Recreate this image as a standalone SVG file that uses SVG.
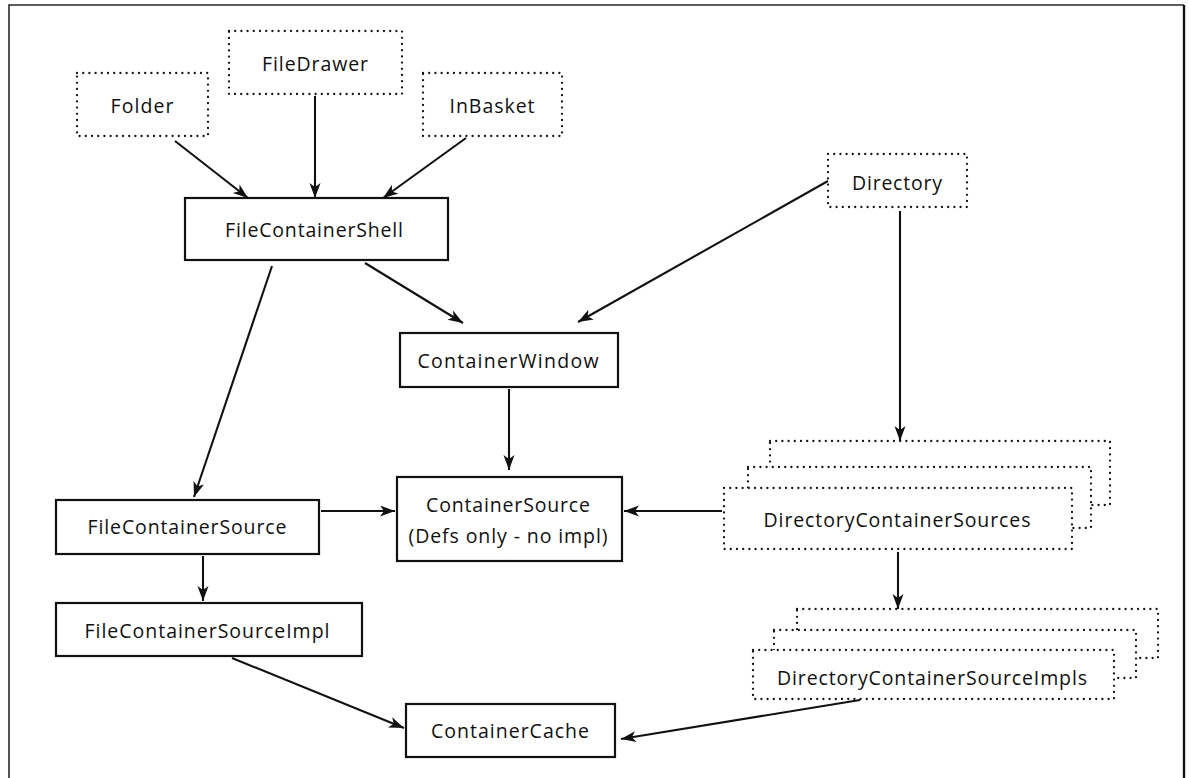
<svg xmlns="http://www.w3.org/2000/svg" width="1189" height="778" viewBox="0 0 1189 778">
  <style>
    .frame { fill: none; stroke: #2a2a2a; stroke-width: 1.6; }
    .frame-r { fill: none; stroke: #111; stroke-width: 2.4; }
    .solid { fill: #fff; stroke: #111; stroke-width: 2.2; }
    .dotted { fill: #fff; stroke: #111; stroke-width: 2.3; stroke-dasharray: 0 6.2; stroke-linecap: round; }
    .label { font-family: "Open Sans", "Liberation Sans", sans-serif; font-size: 19.5px; fill: #111; text-anchor: middle; }
    .edge { fill: none; stroke: #111; stroke-width: 2.1; }
  </style>
  <defs>
    <marker id="arrow" markerUnits="userSpaceOnUse" markerWidth="18" markerHeight="14" refX="15" refY="5.5" orient="auto">
      <path d="M0,0 L15,5.5 L0,11 L4,5.5 Z" fill="#111"/>
    </marker>
  </defs>

  <rect width="1189" height="778" fill="#fff"/>
  <!-- outer frame, open at the bottom -->
  <path class="frame" d="M9,790 L9,5 L1184,5"/>
  <path class="frame-r" d="M1184,5 L1184,790"/>

  <g id="node-folder">
    <rect class="dotted" x="77" y="73" width="131" height="63"/>
    <text class="label" x="142" y="113" textLength="63" lengthAdjust="spacing">Folder</text>
  </g>
  <g id="node-filedrawer">
    <rect class="dotted" x="229" y="31" width="173" height="63"/>
    <text class="label" x="315" y="71" textLength="106" lengthAdjust="spacing">FileDrawer</text>
  </g>
  <g id="node-inbasket">
    <rect class="dotted" x="423" y="73" width="139" height="63"/>
    <text class="label" x="492" y="113" textLength="85" lengthAdjust="spacing">InBasket</text>
  </g>
  <g id="node-filecontainershell">
    <rect class="solid" x="185" y="198" width="263" height="62"/>
    <text class="label" x="314" y="237" textLength="178" lengthAdjust="spacing">FileContainerShell</text>
  </g>
  <g id="node-directory">
    <rect class="dotted" x="828" y="154" width="139" height="53"/>
    <text class="label" x="897" y="190" textLength="90" lengthAdjust="spacing">Directory</text>
  </g>
  <g id="node-containerwindow">
    <rect class="solid" x="400" y="333" width="218" height="54"/>
    <text class="label" x="508" y="368" textLength="181" lengthAdjust="spacing">ContainerWindow</text>
  </g>
  <g id="node-containersource">
    <rect class="solid" x="397" y="477" width="225" height="84"/>
    <text class="label" x="508" y="512" textLength="164" lengthAdjust="spacing">ContainerSource</text>
    <text class="label" x="508" y="543" textLength="199" lengthAdjust="spacing">(Defs only - no impl)</text>
  </g>
  <g id="node-filecontainersource">
    <rect class="solid" x="56" y="500" width="263" height="54"/>
    <text class="label" x="187" y="534" textLength="199" lengthAdjust="spacing">FileContainerSource</text>
  </g>
  <g id="node-filecontainersourceimpl">
    <rect class="solid" x="56" y="603" width="306" height="53"/>
    <text class="label" x="207" y="638" textLength="245" lengthAdjust="spacing">FileContainerSourceImpl</text>
  </g>
  <g id="node-containercache">
    <rect class="solid" x="406" y="704" width="209" height="53"/>
    <text class="label" x="510" y="738" textLength="158" lengthAdjust="spacing">ContainerCache</text>
  </g>
  <g id="node-directorycontainersources">
    <rect class="dotted" x="770" y="441" width="340" height="64"/>
    <rect class="dotted" x="748" y="467" width="343" height="61"/>
    <rect class="dotted" x="724" y="488" width="348" height="61"/>
    <text class="label" x="897" y="527" textLength="267" lengthAdjust="spacing">DirectoryContainerSources</text>
  </g>
  <g id="node-directorycontainersourceimpls">
    <rect class="dotted" x="797" y="609" width="361" height="49"/>
    <rect class="dotted" x="774" y="630" width="362" height="48"/>
    <rect class="dotted" x="753" y="650" width="361" height="49"/>
    <text class="label" x="932" y="685" textLength="310" lengthAdjust="spacing">DirectoryContainerSourceImpls</text>
  </g>

  <g id="connectors" class="edge">
    <line x1="175" y1="141" x2="248" y2="198" marker-end="url(#arrow)"/>
    <line x1="315" y1="96" x2="315" y2="198" marker-end="url(#arrow)"/>
    <line x1="466" y1="138" x2="383" y2="198" marker-end="url(#arrow)"/>
    <line x1="365" y1="263" x2="463" y2="323" marker-end="url(#arrow)"/>
    <line x1="828" y1="181" x2="578" y2="322" marker-end="url(#arrow)"/>
    <line x1="272" y1="266" x2="194" y2="497" marker-end="url(#arrow)"/>
    <line x1="509" y1="389" x2="509" y2="470" marker-end="url(#arrow)"/>
    <line x1="900" y1="211" x2="900" y2="441" marker-end="url(#arrow)"/>
    <line x1="321" y1="511" x2="395" y2="511" marker-end="url(#arrow)"/>
    <line x1="722" y1="511" x2="624" y2="511" marker-end="url(#arrow)"/>
    <line x1="203" y1="556" x2="203" y2="601" marker-end="url(#arrow)"/>
    <line x1="898" y1="552" x2="898" y2="609" marker-end="url(#arrow)"/>
    <line x1="232" y1="658" x2="404" y2="728" marker-end="url(#arrow)"/>
    <line x1="860" y1="700" x2="621" y2="739" marker-end="url(#arrow)"/>
  </g>
</svg>
